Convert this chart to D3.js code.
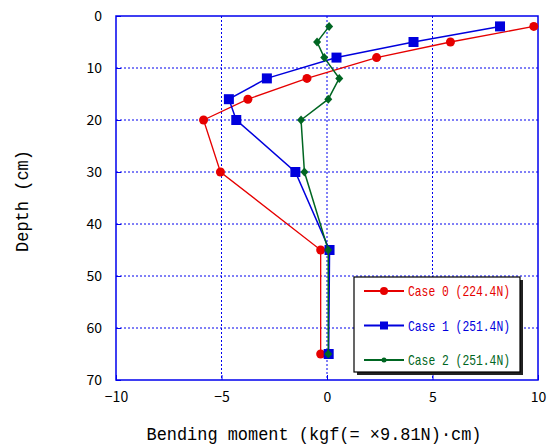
<!DOCTYPE html>
<html>
<head>
<meta charset="utf-8">
<script src="https://cdn.jsdelivr.net/npm/d3@7"></script>
<style>
  body { margin: 0; background: #fff; }
  text { font-family: "Noto Sans CJK JP", "DejaVu Sans", sans-serif; }
  .mono { font-family: "Liberation Mono", "DejaVu Sans Mono", monospace; }
</style>
</head>
<body>
<div id="chart"></div>
<script>
// data
var depths = [2, 5, 8, 12, 16, 20, 30, 45, 65];
var case0 = [9.8, 5.85, 2.35, -0.95, -3.75, -5.85, -5.05, -0.3, -0.3];
var case1 = [8.2, 4.1, 0.45, -2.85, -4.65, -4.3, -1.5, 0.12, 0.08];
var case2 = [0.1, -0.47, -0.13, 0.58, 0.06, -1.23, -1.07, 0.06, 0.06];
var seriesNames = ["Case 0 (224.4N)", "Case 1 (251.4N)", "Case 2 (251.4N)"];
var xTicks = [-10, -5, 0, 5, 10];
var yTicks = [0, 10, 20, 30, 40, 50, 60, 70];

var margin = { top: 16, right: 11, bottom: 66, left: 116 },
    width = 549 - margin.left - margin.right,
    height = 446 - margin.top - margin.bottom;

var svg = d3.select("#chart")
    .append("svg")
    .attr("width", 549)
    .attr("height", 446)
    .append("g")
    .attr("transform", "translate(" + margin.left + "," + margin.top + ")");

var x = d3.scaleLinear().domain([-10, 10]).range([0, width]);
var y = d3.scaleLinear().domain([0, 70]).range([0, height]);

var gridBlue = "#0000ee";

// grid
svg.selectAll(".vgrid")
    .data(xTicks.slice(1, -1))
    .enter()
    .append("line")
    .attr("x1", function(d) { return x(d); })
    .attr("x2", function(d) { return x(d); })
    .attr("y1", 0)
    .attr("y2", height)
    .attr("stroke", gridBlue)
    .attr("stroke-width", 1)
    .attr("stroke-dasharray", "2,2");

svg.selectAll(".hgrid")
    .data(yTicks.slice(1, -1))
    .enter()
    .append("line")
    .attr("x1", 0)
    .attr("x2", width)
    .attr("y1", function(d) { return y(d); })
    .attr("y2", function(d) { return y(d); })
    .attr("stroke", gridBlue)
    .attr("stroke-width", 1)
    .attr("stroke-dasharray", "2,2");

// axes with inward ticks
var xAxis = svg.append("g")
    .attr("transform", "translate(0," + height + ")")
    .call(d3.axisBottom(x).tickValues(xTicks).tickSize(-5).tickPadding(12)
        .tickFormat(function(d) { return d < 0 ? "\u2212" + (-d) : d; }));
xAxis.select(".domain").remove();
xAxis.selectAll("line").attr("stroke", gridBlue);
xAxis.selectAll("text").attr("font-size", 14).attr("fill", "#000");

var yAxis = svg.append("g")
    .call(d3.axisLeft(y).tickValues(yTicks).tickSize(-5).tickPadding(14));
yAxis.select(".domain").remove();
yAxis.selectAll("line").attr("stroke", gridBlue);
yAxis.selectAll("text").attr("font-size", 14).attr("fill", "#000");

// frame
svg.append("rect")
    .attr("x", 0)
    .attr("y", 0)
    .attr("width", width)
    .attr("height", height)
    .attr("fill", "none")
    .attr("stroke", gridBlue)
    .attr("stroke-width", 1.5);

// series
var series = [
    { name: seriesNames[0], values: case0, color: "#e60000", shape: "circle", width: 1.3 },
    { name: seriesNames[1], values: case1, color: "#0000dd", shape: "square", width: 1.5 },
    { name: seriesNames[2], values: case2, color: "#006622", shape: "diamond", width: 1.5 }
];

function marker(g, s, cx, cy) {
    if (s.shape === "circle") {
        g.append("circle").attr("cx", cx).attr("cy", cy).attr("r", 4.5).attr("fill", s.color);
    } else if (s.shape === "square") {
        g.append("rect").attr("x", cx - 5).attr("y", cy - 5).attr("width", 10).attr("height", 10).attr("fill", s.color);
    } else {
        g.append("path")
            .attr("d", "M" + cx + "," + (cy - 4.5) + "L" + (cx + 4) + "," + cy + "L" + cx + "," + (cy + 4.5) + "L" + (cx - 4) + "," + cy + "Z")
            .attr("fill", s.color);
    }
}

var line = d3.line()
    .x(function(d) { return x(d[0]); })
    .y(function(d) { return y(d[1]); });

series.forEach(function(s) {
    var pts = s.values.map(function(v, i) { return [v, depths[i]]; });
    svg.append("path")
        .datum(pts)
        .attr("fill", "none")
        .attr("stroke", s.color)
        .attr("stroke-width", s.width)
        .attr("d", line);
    var g = svg.append("g");
    pts.forEach(function(p) { marker(g, s, x(p[0]), y(p[1])); });
});

// legend
var lg = d3.select("svg").append("g").attr("transform", "translate(354,277)");
lg.append("rect").attr("x", 3).attr("y", 3).attr("width", 166).attr("height", 95).attr("fill", "#222");
lg.append("rect").attr("x", 0).attr("y", 0).attr("width", 166).attr("height", 95)
    .attr("fill", "#fff").attr("stroke", "#000").attr("stroke-width", 1.2);

series.forEach(function(s, i) {
    var ry = 14 + i * 34.5;
    lg.append("line").attr("x1", 10).attr("x2", 50).attr("y1", ry).attr("y2", ry)
        .attr("stroke", s.color).attr("stroke-width", s.width + 0.5);
    var m = lg.append("g");
    if (s.shape === "circle") {
        m.append("circle").attr("cx", 30).attr("cy", ry).attr("r", 4).attr("fill", s.color);
    } else if (s.shape === "square") {
        m.append("rect").attr("x", 26).attr("y", ry - 4).attr("width", 8).attr("height", 8).attr("fill", s.color);
    } else {
        m.append("circle").attr("cx", 30).attr("cy", ry).attr("r", 2.5).attr("fill", s.color);
    }
    lg.append("text")
        .attr("class", "mono")
        .attr("x", 54)
        .attr("y", ry + 5)
        .attr("font-size", 15)
        .attr("textLength", 102)
        .attr("lengthAdjust", "spacingAndGlyphs")
        .attr("fill", s.color)
        .text(s.name);
});

// axis titles
d3.select("svg").append("text")
    .attr("class", "mono")
    .attr("x", 314)
    .attr("y", 440)
    .attr("text-anchor", "middle")
    .attr("font-size", 18)
    .attr("textLength", 335)
    .attr("lengthAdjust", "spacingAndGlyphs")
    .text("Bending moment (kgf(= \u00d79.81N)\u00b7cm)");

d3.select("svg").append("text")
    .attr("class", "mono")
    .attr("transform", "translate(28,201) rotate(-90)")
    .attr("text-anchor", "middle")
    .attr("font-size", 18)
    .attr("textLength", 102)
    .attr("lengthAdjust", "spacingAndGlyphs")
    .text("Depth (cm)");
</script>
</body>
</html>
